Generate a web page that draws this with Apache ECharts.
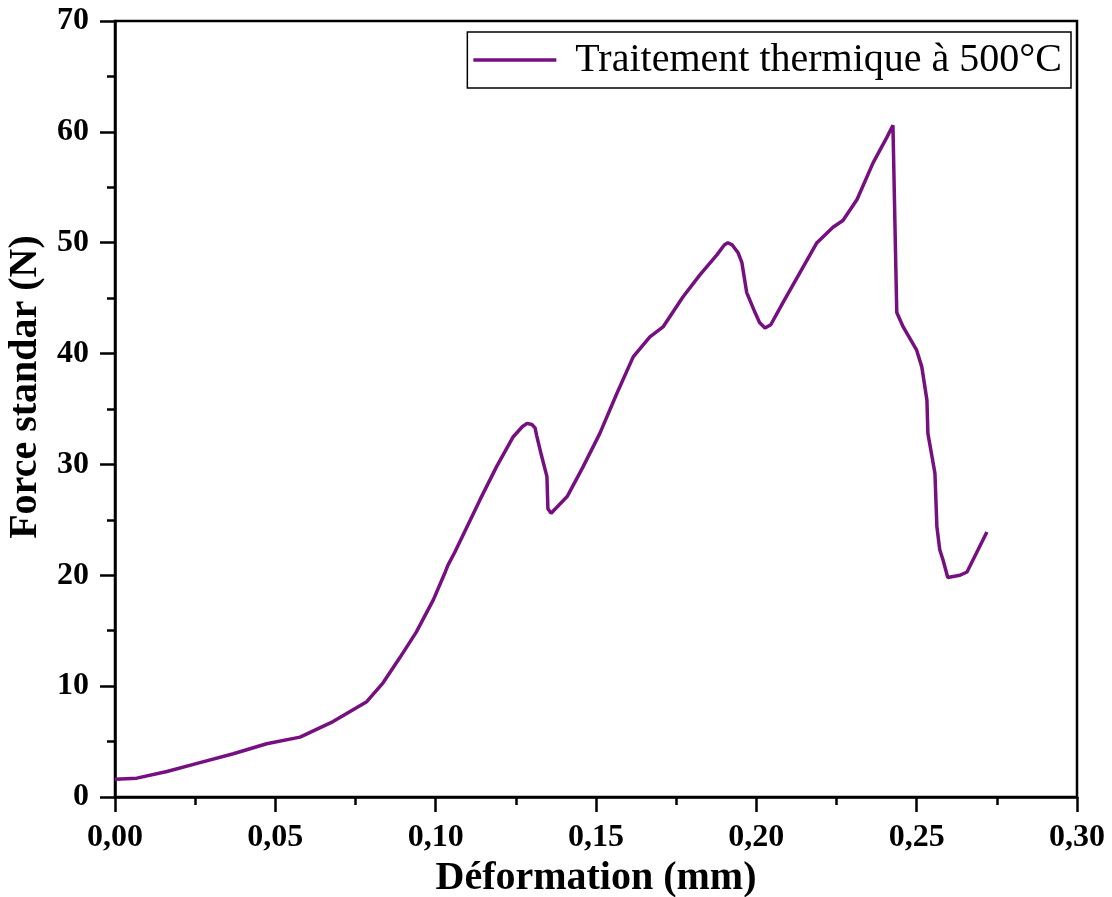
<!DOCTYPE html>
<html>
<head>
<meta charset="utf-8">
<script src="https://cdn.jsdelivr.net/npm/echarts@6/dist/echarts.min.js"></script>
<style>
html,body{margin:0;padding:0;background:#fff;}
#chart{width:1112px;height:897px;}
</style>
</head>
<body>
<div id="chart"></div>
<script>
const seriesName = 'Traitement thermique à 500°C';
const xTitle = 'Déformation (mm)';
const yTitle = 'Force standar (N)';
const deformation = [0, 0.0068, 0.0162, 0.0265, 0.0369, 0.0473, 0.0577, 0.068, 0.0785, 0.0836, 0.0889, 0.094, 0.0993, 0.1030, 0.1038, 0.1042, 0.1060, 0.1138, 0.119, 0.1242, 0.1270, 0.1285, 0.1300, 0.131, 0.1315, 0.133, 0.1347, 0.1350, 0.1360, 0.141, 0.146, 0.1512, 0.1565, 0.1616, 0.1668, 0.1709, 0.1771, 0.1824, 0.1877, 0.1900, 0.1911, 0.1925, 0.1943, 0.1955, 0.197, 0.1996, 0.2010, 0.2027, 0.2045, 0.2083, 0.2136, 0.2189, 0.2239, 0.227, 0.2314, 0.2364, 0.2407, 0.2426, 0.2432, 0.2435, 0.2438, 0.2458, 0.25, 0.2516, 0.2532, 0.2535, 0.2557, 0.2563, 0.2572, 0.2582, 0.2597, 0.2635, 0.2657, 0.2719];
const force = [1.6, 1.7, 2.3, 3.1, 3.9, 4.8, 5.4, 6.8, 8.6, 10.3, 12.6, 14.9, 17.8, 20.3, 20.9, 21.0, 22.1, 26.8, 29.8, 32.5, 33.4, 33.7, 33.6, 33.3, 32.6, 30.8, 28.9, 26.0, 25.6, 27.1, 29.8, 32.8, 36.4, 39.7, 41.5, 42.4, 45.1, 47.1, 48.9, 49.8, 50.0, 49.8, 49.1, 48.2, 45.5, 43.7, 42.8, 42.3, 42.6, 44.6, 47.3, 50.0, 51.4, 52.0, 53.9, 57.2, 59.5, 60.6, 60.6, 47.8, 43.7, 42.4, 40.3, 38.8, 35.8, 32.8, 29.2, 24.4, 22.3, 21.4, 19.8, 20.0, 20.3, 23.9];

const data = deformation.map((x, i) => [x, force[i]]);
const serif = '"Liberation Serif", "Times New Roman", serif';
const purple = '#760f80';
const chart = echarts.init(document.getElementById('chart'), null, {renderer: 'canvas'});
chart.setOption({
  backgroundColor: '#fff',
  animation: false,
  grid: {left: 115, right: 35, top: 21, bottom: 100, outerBoundsMode: 'none', containLabel: false,
    show: true, borderColor: '#000', borderWidth: 2.5, backgroundColor: 'transparent'},
  legend: {
    right: 41, top: 32,
    data: [{name: seriesName, icon: 'rect'}],
    borderColor: '#000', borderWidth: 1.5,
    padding: [8, 9, 8, 6],
    itemWidth: 83, itemHeight: 3.5,
    itemStyle: {color: purple},
    textStyle: {fontFamily: serif, fontSize: 40, color: '#000', padding: [0, 0, 0, 14]}
  },
  xAxis: {
    type: 'value', min: 0, max: 0.30, interval: 0.05,
    name: xTitle, nameLocation: 'middle', nameGap: 57,
    nameTextStyle: {fontFamily: serif, fontSize: 40, fontWeight: 'bold', color: '#000'},
    axisLine: {lineStyle: {color: '#000', width: 2.5}},
    axisTick: {show: true, inside: false, length: 15, lineStyle: {color: '#000', width: 2.5}},
    minorTick: {show: true, splitNumber: 2, length: 8, lineStyle: {color: '#000', width: 2.5}},
    splitLine: {show: false},
    axisLabel: {fontFamily: serif, fontSize: 32, fontWeight: 'bold', color: '#000', margin: 25,
      formatter: v => v.toFixed(2).replace('.', ',')}
  },
  yAxis: {
    type: 'value', min: 0, max: 70, interval: 10,
    name: yTitle, nameLocation: 'middle', nameGap: 66,
    nameTextStyle: {fontFamily: serif, fontSize: 40, fontWeight: 'bold', color: '#000', padding: [0, 0, 0, 44]},
    axisLine: {lineStyle: {color: '#000', width: 2.5}},
    axisTick: {show: true, inside: false, length: 15, lineStyle: {color: '#000', width: 2.5}},
    minorTick: {show: true, splitNumber: 2, length: 8, lineStyle: {color: '#000', width: 2.5}},
    splitLine: {show: false},
    axisLabel: {fontFamily: serif, fontSize: 32, fontWeight: 'bold', color: '#000', margin: 26}
  },
  series: [{
    name: seriesName, type: 'line', data: data,
    symbol: 'none', showSymbol: false, smooth: false,
    lineStyle: {color: purple, width: 3.5},
    itemStyle: {color: purple}
  }]
});
</script>
</body>
</html>
